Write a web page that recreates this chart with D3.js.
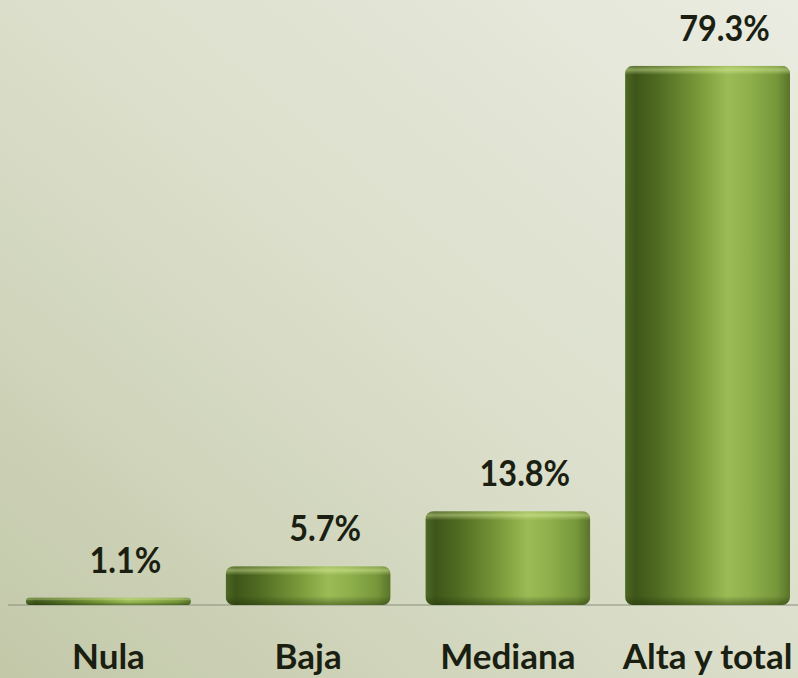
<!DOCTYPE html>
<html>
<head>
<meta charset="utf-8">
<script src="https://cdn.jsdelivr.net/npm/d3@7/dist/d3.min.js"></script>
<style>
  html, body { margin: 0; padding: 0; overflow: hidden; }
  svg { display: block; }
</style>
</head>
<body>
<svg width="798" height="678"></svg>
<script>
var categories = ['Nula', 'Baja', 'Mediana', 'Alta y total'];
var values = [1.1, 5.7, 13.8, 79.3];
var valueLabels = ['1.1%', '5.7%', '13.8%', '79.3%'];

var svg = d3.select('svg'),
    width = 798,
    height = 678;

var defs = svg.append('defs');

// background
var bg = defs.append('linearGradient')
    .attr('id', 'bg')
    .attr('x1', '100%').attr('y1', '0%')
    .attr('x2', '0%').attr('y2', '100%');
bg.append('stop').attr('offset', '0%').attr('stop-color', '#eaece1');
bg.append('stop').attr('offset', '55%').attr('stop-color', '#d9ddc8');
bg.append('stop').attr('offset', '100%').attr('stop-color', '#c2c8a8');

svg.append('rect')
    .attr('width', width)
    .attr('height', height)
    .attr('fill', 'url(#bg)');

// cylinder body shading
var body = defs.append('linearGradient')
    .attr('id', 'body')
    .attr('x1', '0%').attr('y1', '0%')
    .attr('x2', '100%').attr('y2', '0%');
[['0%', '#4e6825'], ['6%', '#3e5519'], ['20%', '#4f6b22'],
 ['45%', '#7a9a3a'], ['62%', '#9bbb56'], ['75%', '#8fb04c'],
 ['92%', '#76963a'], ['100%', '#58742a']].forEach(function(s) {
  body.append('stop').attr('offset', s[0]).attr('stop-color', s[1]);
});

var topGlow = defs.append('linearGradient')
    .attr('id', 'topGlow')
    .attr('x1', '0%').attr('y1', '0%')
    .attr('x2', '0%').attr('y2', '100%');
topGlow.append('stop').attr('offset', '0%').attr('stop-color', '#dff0a0').attr('stop-opacity', 0.15);
topGlow.append('stop').attr('offset', '45%').attr('stop-color', '#e6f7a8').attr('stop-opacity', 0.45);
topGlow.append('stop').attr('offset', '100%').attr('stop-color', '#e6f7a8').attr('stop-opacity', 0);

var bottomShade = defs.append('linearGradient')
    .attr('id', 'bottomShade')
    .attr('x1', '0%').attr('y1', '0%')
    .attr('x2', '0%').attr('y2', '100%');
bottomShade.append('stop').attr('offset', '0%').attr('stop-color', '#1e2c08').attr('stop-opacity', 0);
bottomShade.append('stop').attr('offset', '100%').attr('stop-color', '#1e2c08').attr('stop-opacity', 0.45);

var x = d3.scaleBand()
    .domain(categories)
    .range([8, 808])
    .paddingInner(0.174)
    .paddingOuter(0.09);

var y = d3.scaleLinear()
    .domain([0, 80])
    .range([605, 61]);

// baseline
svg.append('line')
    .attr('x1', 8).attr('x2', width)
    .attr('y1', y(0)).attr('y2', y(0))
    .attr('stroke', '#8a8f7e')
    .attr('stroke-width', 1.2);

var data = categories.map(function(c, i) {
  return { cat: c, value: values[i], label: valueLabels[i] };
});

function radius(d) {
  return Math.min(8, (y(0) - y(d.value)) / 2);
}

data.forEach(function(d, i) {
  defs.append('clipPath')
      .attr('id', 'clip' + i)
    .append('rect')
      .attr('x', x(d.cat))
      .attr('y', y(d.value))
      .attr('width', x.bandwidth())
      .attr('height', y(0) - y(d.value))
      .attr('rx', radius(d));
});

var bars = svg.append('g')
    .attr('class', 'bars')
  .selectAll('g')
  .data(data)
  .enter().append('g')
    .attr('clip-path', function(d, i) { return 'url(#clip' + i + ')'; });

bars.append('rect')
    .attr('x', function(d) { return x(d.cat); })
    .attr('y', function(d) { return y(d.value); })
    .attr('width', x.bandwidth())
    .attr('height', function(d) { return y(0) - y(d.value); })
    .attr('fill', 'url(#body)');

bars.append('rect')
    .attr('x', function(d) { return x(d.cat); })
    .attr('y', function(d) { return y(d.value); })
    .attr('width', x.bandwidth())
    .attr('height', function(d) { return Math.min(9, (y(0) - y(d.value)) * 0.45); })
    .attr('fill', 'url(#topGlow)');

bars.append('rect')
    .attr('x', function(d) { return x(d.cat); })
    .attr('y', function(d) { return y(0) - Math.min(9, (y(0) - y(d.value)) * 0.4); })
    .attr('width', x.bandwidth())
    .attr('height', function(d) { return Math.min(9, (y(0) - y(d.value)) * 0.4); })
    .attr('fill', 'url(#bottomShade)');

// value labels (sit a little right of bar centre, narrowed like the original font)
svg.append('g')
  .selectAll('text')
  .data(data)
  .enter().append('text')
    .attr('transform', function(d) {
      return 'translate(' + (x(d.cat) + x.bandwidth() / 2 + 17) + ',' + (y(d.value) - 25) + ') scale(0.9,1)';
    })
    .attr('text-anchor', 'middle')
    .attr('font-family', 'Lato, sans-serif')
    .attr('font-weight', 'bold')
    .attr('font-size', 36)
    .attr('fill', '#1a1f12')
    .text(function(d) { return d.label; });

// category labels
svg.append('g')
  .selectAll('text')
  .data(data)
  .enter().append('text')
    .attr('x', function(d) { return x(d.cat) + x.bandwidth() / 2; })
    .attr('y', 669)
    .attr('text-anchor', 'middle')
    .attr('font-family', 'Lato, sans-serif')
    .attr('font-weight', 'bold')
    .attr('font-size', 35)
    .attr('fill', '#1a1f12')
    .text(function(d) { return d.cat; });
</script>
</body>
</html>
